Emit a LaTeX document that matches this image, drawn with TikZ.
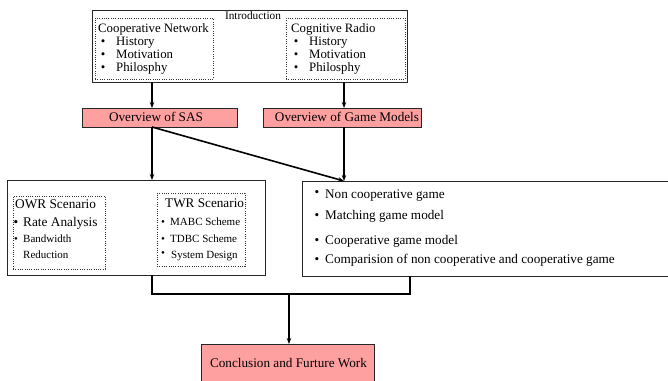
\documentclass[tikz,border=0pt]{standalone}
\usepackage{fontspec}
\setmainfont{Liberation Serif}
\usetikzlibrary{arrows.meta}
\definecolor{pinkbox}{RGB}{255,160,160}
\begin{document}
\begin{tikzpicture}[x=1pt,y=-1pt,
  box/.style={draw=black!85,line width=0.9pt,inner sep=0pt,outer sep=0pt,rectangle},
  dbox/.style={draw=black!80,line width=0.7pt,dash pattern=on 0.7pt off 1.6pt,inner sep=0pt,outer sep=0pt,rectangle},
  pbox/.style={box,fill=pinkbox},
  conn/.style={line width=1.6pt,black},
  arr/.style={conn,-{Stealth[length=6pt,width=4.5pt]}},
  txt/.style={inner sep=0pt,anchor=base west},
  bul/.style={inner sep=0pt,anchor=base},
  fA/.style={font=\fontsize{12.8}{14}\selectfont},
  fI/.style={font=\fontsize{11.3}{13}\selectfont},
  fO/.style={font=\fontsize{13.2}{15}\selectfont},
  fS/.style={font=\fontsize{11}{13}\selectfont},
  fL/.style={font=\fontsize{13.3}{15}\selectfont}]
\useasboundingbox (0,0) rectangle (668,380);
% boxes
\node[box,minimum width=315pt,minimum height=72pt] (intro) at (249.5,46) {};
\node[dbox,minimum width=118pt,minimum height=61pt] (coop) at (154,48.5) {};
\node[dbox,minimum width=119pt,minimum height=61pt] (cog) at (345.5,48.5) {};
\node[fI,inner sep=0pt,fill=white,anchor=base] (introT) at (253,19.5) {Introduction};
\node[pbox,minimum width=155pt,minimum height=19pt] (sas) at (159.5,117.5) {};
\node[pbox,minimum width=158pt,minimum height=19pt] (game) at (342,117.5) {};
\node[box,minimum width=258pt,minimum height=95pt] (left) at (136,227.5) {};
\node[box,minimum width=368pt,minimum height=95pt] (right) at (486,228.5) {};
\node[dbox,minimum width=92pt,minimum height=73pt] (owr) at (59,232.5) {};
\node[dbox,minimum width=88pt,minimum height=73pt] (twr) at (201,229.5) {};
\node[pbox,minimum width=173pt,minimum height=41pt] (concl) at (287.5,364.5) {};
% box labels
\node[fO,inner sep=0pt,anchor=base] (sasT) at (156,121) {Overview of SAS};
\node[fO,inner sep=0pt,anchor=base] (gameT) at (347,121) {Overview of Game Models};
\node[fO,inner sep=0pt,anchor=base] (conclT) at (288.5,367) {Conclusion and Furture Work};
% intro lists
\node[fA,txt] (cn) at (98,32.7) {Cooperative Network};
\node[fA,bul] (cb1) at (103,45.7) {•};
\node[fA,txt] (cn1) at (116,45.7) {History};
\node[fA,bul] (cb2) at (103,58.4) {•};
\node[fA,txt] (cn2) at (116,58.4) {Motivation};
\node[fA,bul] (cb3) at (103,71) {•};
\node[fA,txt] (cn3) at (116,71) {Philosphy};
\node[fA,txt] (cr) at (291,32.7) {Cognitive Radio};
\node[fA,bul] (rb1) at (296,45.7) {•};
\node[fA,txt] (cr1) at (309,45.7) {History};
\node[fA,bul] (rb2) at (296,58.4) {•};
\node[fA,txt] (cr2) at (309,58.4) {Motivation};
\node[fA,bul] (rb3) at (296,71) {•};
\node[fA,txt] (cr3) at (309,71) {Philosphy};
% OWR
\node[fL,txt] (o0) at (15,208) {OWR Scenario};
\node[fL,bul] (ob1) at (16,226) {•};
\node[fL,txt] (o1) at (23,226) {Rate Analysis};
\node[fS,bul] (ob2) at (16,242) {•};
\node[fS,txt] (o2) at (23,242) {Bandwidth};
\node[fS,txt] (o3) at (23,258) {Reduction};
% TWR
\node[fO,txt] (w0) at (165,207) {TWR Scenario};
\node[fS,bul] (wb1) at (163,225) {•};
\node[fS,txt] (w1) at (170,225) {MABC Scheme};
\node[fS,bul] (wb2) at (163,242) {•};
\node[fS,txt] (w2) at (170,242) {TDBC Scheme};
\node[fS,bul] (wb3) at (163,256) {•};
\node[fS,txt] (w3) at (171,258) {System Design};
% game list
\node[fO,bul] (gb1) at (317,196.5) {•};
\node[fO,txt] (g1) at (325,198) {Non cooperative game};
\node[fO,bul] (gb2) at (317,219) {•};
\node[fO,txt] (g2) at (325,219) {Matching game model};
\node[fO,bul] (gb3) at (317,244) {•};
\node[fO,txt] (g3) at (325,244) {Cooperative game model};
\node[fO,bul] (gb4) at (317,263) {•};
\node[fO,txt] (g4) at (325,263) {Comparision of non cooperative and cooperative game};
% connector helper coordinates
\coordinate (xa) at (152,0);
\coordinate (xb) at (344,0);
\coordinate (xc) at (410,0);
\coordinate (mid) at (289,294);
% connectors
\draw[arr] (intro.south -| xa) -- (sas.north -| xa);
\draw[arr] (intro.south -| xb) -- (game.north -| xb);
\draw[arr] (sas.south -| xa) -- (left.north -| xa);
\draw[arr] (sas.south -| xa) -- (right.north -| xb);
\draw[arr] (game.south -| xb) -- (right.north -| xb);
\draw[conn] (left.south -| xa) |- (mid) -| (right.south -| xc);
\draw[arr] (mid) -- (concl.north -| mid);
\end{tikzpicture}
\end{document}
